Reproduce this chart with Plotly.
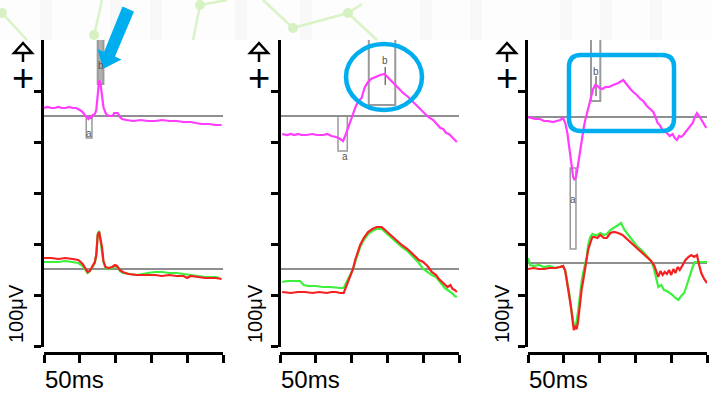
import plotly.graph_objects as go

W, H = 711, 393

# ---------------- data (time in ms, amplitude in µV-like units relative to each baseline) -------------
tick_ms = [0, 50, 100, 150, 200, 250]
amp_ticks = [0, 51, 102, 153, 204, 255]

# panel 1
p1_top_t = [0,5,10,15,20,25,30,35,40,45,50,54,57,60,62,64,66,68,71,73,75,77,79,81,83,86,88,92,96,98,100,103,106,109,115,125,135,145,155,165,175,185,195,205,212,220,230,240,248]
p1_top_v = [8,9,8,8,9,8,8,9,8,8,6,4,1,-2,-3,-1,-2,1,2,6,24,36,32,22,9,3,1,0,0,3,3,3,-1,-3,-4,-5,-4,-5,-5,-4,-5,-5,-6,-6,-7,-8,-8,-9,-9]
p1_red_t = [0,10,20,30,40,48,54,57,61,64,67,71,73,75,77,79,81,83,86,90,95,99,102,106,110,118,130,145,155,165,175,185,195,200,205,215,225,240,248]
p1_red_v = [11,11,10,11,10,9,5,1,-3,-2,2,7,14,34,37,28,22,8,2,1,2,4,3,-1,-3,-5,-6,-6,-6,-7,-6,-7,-7,-9,-7,-8,-9,-9,-10]
p1_grn_t = [0,10,20,30,40,48,54,58,61,64,67,71,73,75,77,79,81,83,86,90,95,99,102,106,110,118,130,145,155,165,175,185,195,205,215,225,240,245]
p1_grn_v = [7,7,7,8,7,6,3,-1,-4,-2,2,6,14,35,38,27,20,7,1,0,1,3,2,-2,-4,-5,-6,-4,-3,-3,-4,-4,-5,-6,-7,-8,-8,-9]

# panel 2
p2_top_t = [3,10,15,20,25,30,37,45,52,60,66,72,78,82,86,88,91,94,97,100,103,106,110,114,118,122,127,133,140,146,150,155,160,165,172,179,186,193,200,207,214,220,224,228,232,236,240,244,247]
p2_top_v = [-18,-19,-18,-19,-18,-19,-19,-18,-19,-19,-18,-20,-21,-22,-24,-25,-20,-14,-8,-4,4,10,15,18,28,33,37,39,41,42,39,35,31,28,23,19,14,8,3,-1,-4,-9,-12,-13,-17,-18,-21,-24,-26]
p2_red_t = [3,15,25,35,45,55,65,72,78,84,89,92,95,98,102,105,108,112,117,123,129,135,142,148,155,162,170,178,186,194,200,206,212,218,222,226,230,234,238,241,244,247]
p2_red_v = [-23,-24,-23,-23,-24,-23,-24,-23,-23,-24,-24,-18,-12,-8,0,9,16,24,31,37,40,42,42,38,33,29,24,20,14,9,7,3,-3,-6,-10,-13,-16,-18,-16,-20,-21,-23]
p2_grn_t = [3,10,20,28,33,40,50,60,70,78,84,89,92,95,98,102,105,108,112,117,123,129,135,142,148,155,162,170,178,186,194,200,206,212,218,224,230,236,240,244,247]
p2_grn_v = [-13,-12,-12,-12,-16,-17,-17,-18,-18,-19,-19,-19,-14,-10,-6,0,7,14,22,29,35,38,40,40,36,31,27,22,18,12,6,0,-3,-6,-8,-13,-19,-22,-24,-27,-28]

# panel 3
p3_top_t = [0,5,10,17,22,28,35,40,45,49,52,55,57,59,61,63,65,67,69,71,73,75,78,80,83,86,88,91,94,97,100,104,108,113,119,126,133,138,143,147,152,157,161,166,171,175,178,181,184,187,190,194,198,202,205,208,211,214,217,221,226,230,233,236,239,242,246,249]
p3_top_v = [0,-1,-2,-2,-4,-4,-5,-4,-3,-1,-6,-16,-28,-40,-52,-60,-63,-60,-52,-42,-30,-22,-10,-3,6,14,20,28,32,31,29,28,30,30,32,34,37,32,28,25,22,18,16,11,8,5,0,-6,-8,-12,-14,-16,-19,-17,-21,-23,-19,-20,-18,-14,-10,-6,0,4,1,-3,-8,-11]
p3_red_t = [0,8,15,22,30,38,45,49,52,55,58,60,62,64,66,68,70,72,75,77,80,82,84,87,90,93,97,101,106,110,115,120,126,132,138,145,152,160,166,172,176,179,182,185,188,191,194,197,200,203,206,209,212,216,220,224,228,232,236,239,242,246,250]
p3_red_v = [-6,-5,-6,-6,-5,-5,-4,-3,-8,-20,-34,-44,-56,-67,-64,-66,-58,-44,-26,-18,-6,2,13,20,26,26,25,28,25,25,30,31,30,28,24,20,15,10,6,2,-2,-8,-14,-8,-12,-9,-11,-7,-12,-6,-10,-4,-7,-2,3,6,8,6,8,-2,-10,-16,-20]
p3_grn_t = [0,3,8,15,22,30,38,45,49,52,55,58,60,62,64,66,68,70,72,75,77,80,82,84,87,90,93,97,101,106,110,115,120,126,130,134,138,145,152,160,166,172,176,179,182,186,190,194,198,202,206,210,214,218,221,224,227,230,233,238,245,250]
p3_grn_v = [5,-2,-3,-2,-4,-3,-5,-4,-3,-7,-18,-32,-44,-56,-62,-64,-58,-48,-34,-18,-10,-2,6,18,26,29,28,28,30,28,29,33,35,38,40,34,30,24,17,12,7,2,-6,-14,-24,-22,-27,-28,-30,-32,-35,-37,-33,-30,-24,-17,-10,-4,1,1,1,1]

# latency windows (t0, t1, v0, v1) relative to upper baseline
win_a = [(59, 67, -22, 0), (81, 94, -35, 0), (59, 67, -132, -51)]
win_b = [(75, 83, 32, 80), (124, 161, 11, 80), (88, 101, 16, 80)]
peak_b = [(79, 51, None), (147, 56, (31, 49)), (95, 46, (21, 41))]   # label t, label v, tick range
label_a = [(63, -17), (91, -40), (63, -82)]

upper_base = [230, 230, 229]
lower_base = [77, 77, 83]

panels = [
    dict(top=(p1_top_t, p1_top_v), red=(p1_red_t, p1_red_v), grn=(p1_grn_t, p1_grn_v)),
    dict(top=(p2_top_t, p2_top_v), red=(p2_red_t, p2_red_v), grn=(p2_grn_t, p2_grn_v)),
    dict(top=(p3_top_t, p3_top_v), red=(p3_red_t, p3_red_v), grn=(p3_grn_t, p3_grn_v)),
]

# ---------------- layout geometry (pixels) ----------------
x_left = [44, 280, 528]
x_right = [223, 459, 707]
y_axis_px = [42, 279, 526]
glyph_x = [23, 259, 507]
ylab_x = [16, 255, 502]

MAG = "#ff3cff"
RED = "#f52020"
GRN = "#3cf03c"
GRAY = "#8f8f8f"
BLUE = "#00aeef"
FONT = "Liberation Sans, Arial, sans-serif"


def px(x, y):
    return x / W, 1 - y / H


fig = go.Figure()
layout = dict(width=W, height=H, margin=dict(l=0, r=0, t=0, b=0),
              paper_bgcolor="white", plot_bgcolor="rgba(0,0,0,0)", showlegend=False)
shapes, annots = [], []

for i, p in enumerate(panels):
    k = "" if i == 0 else str(i + 1)
    xa, ya = "x" + k, "y" + k
    layout["xaxis" + k] = dict(domain=[x_left[i] / W, x_right[i] / W], range=[0, 250],
                               anchor="free", position=1 - 353 / H,
                               showline=True, linecolor="black", linewidth=2.5,
                               ticks="outside", ticklen=8, tickwidth=2.5, tickcolor="black",
                               tickvals=tick_ms, showticklabels=False, showgrid=False, zeroline=False)
    layout["yaxis" + k] = dict(domain=[1 - 347 / H, 1 - 40 / H], range=[-1, 306],
                               anchor="free", position=y_axis_px[i] / W,
                               showline=True, linecolor="black", linewidth=2.5,
                               ticks="outside", ticklen=7, tickwidth=2.5, tickcolor="black",
                               tickvals=amp_ticks, showticklabels=False, showgrid=False, zeroline=False)
    ub, lb = upper_base[i], lower_base[i]
    # baselines
    for b in (ub, lb):
        fig.add_trace(go.Scatter(x=[0, 250], y=[b, b], mode="lines", xaxis=xa, yaxis=ya,
                                 line=dict(color=GRAY, width=2), hoverinfo="skip"))
    # windows
    t0, t1, v0, v1 = win_a[i]
    shapes.append(dict(type="rect", xref=xa, yref=ya, x0=t0, x1=t1, y0=ub + v0, y1=ub + v1,
                       line=dict(color="#9a9a9a", width=1.5), fillcolor="rgba(255,255,255,0.6)", layer="below"))
    t0, t1, v0, v1 = win_b[i]
    fill_b = "rgba(150,150,150,0.75)" if i == 0 else "rgba(255,255,255,0)"
    shapes.append(dict(type="rect", xref=xa, yref=ya, x0=t0, x1=t1, y0=ub + v0, y1=ub + v1,
                       line=dict(color="#9a9a9a", width=2), fillcolor=fill_b, layer="below"))
    lt, lv, tk = peak_b[i]
    annots.append(dict(x=lt, y=ub + lv, xref=xa, yref=ya, text="b", showarrow=False,
                       font=dict(family=FONT, size=10, color="#555")))
    if tk:
        shapes.append(dict(type="line", xref=xa, yref=ya, x0=lt, x1=lt, y0=ub + tk[0], y1=ub + tk[1],
                           line=dict(color="#777", width=1.5), layer="below"))
    at, av = label_a[i]
    annots.append(dict(x=at, y=ub + av, xref=xa, yref=ya, text="a", showarrow=False,
                       font=dict(family=FONT, size=10, color="#555")))
    # traces
    tt, tv = p["top"]
    fig.add_trace(go.Scatter(x=tt, y=[ub + v for v in tv], mode="lines", xaxis=xa, yaxis=ya,
                             line=dict(color=MAG, width=2.2)))
    gt, gv = p["grn"]
    fig.add_trace(go.Scatter(x=gt, y=[lb + v for v in gv], mode="lines", xaxis=xa, yaxis=ya,
                             line=dict(color=GRN, width=2.2)))
    rt, rv = p["red"]
    fig.add_trace(go.Scatter(x=rt, y=[lb + v for v in rv], mode="lines", xaxis=xa, yaxis=ya,
                             line=dict(color=RED, width=2.2)))
    # texts
    x_, y_ = px(x_left[i], 379)
    annots.append(dict(x=x_, y=y_, xref="paper", yref="paper", text="50ms", showarrow=False,
                       xanchor="left", yanchor="middle", borderpad=0,
                       font=dict(family=FONT, size=24, color="black")))
    x_, y_ = px(ylab_x[i], 314)
    annots.append(dict(x=x_, y=y_, xref="paper", yref="paper", text="100μV", showarrow=False,
                       textangle=-90, xanchor="center", yanchor="middle",
                       font=dict(family=FONT, size=20, color="black")))
    gx = glyph_x[i]
    x_, y_ = px(gx, 78)
    annots.append(dict(x=x_, y=y_, xref="paper", yref="paper", text="+", showarrow=False,
                       xanchor="center", yanchor="middle", font=dict(family=FONT, size=38, color="black")))
    # polarity arrow glyph
    a = px(gx - 9, 53); b = px(gx, 43); c = px(gx + 9, 53)
    shapes.append(dict(type="path", xref="paper", yref="paper",
                       path=f"M {a[0]},{a[1]} L {b[0]},{b[1]} L {c[0]},{c[1]} Z",
                       line=dict(color="black", width=2.5), fillcolor="white", layer="above"))
    s0 = px(gx, 53); s1 = px(gx, 62)
    shapes.append(dict(type="line", xref="paper", yref="paper", x0=s0[0], y0=s0[1], x1=s1[0], y1=s1[1],
                       line=dict(color="black", width=2.5), layer="above"))

# ---------------- decorative header ----------------
hx0, hy0 = px(0, 0); hx1, hy1 = px(W, 40)
shapes.append(dict(type="rect", xref="paper", yref="paper", x0=hx0, y0=hy0, x1=hx1, y1=hy1,
                   fillcolor="#fdfdfd", line=dict(width=0), layer="above"))
for sx in [40, 110, 150, 235, 300, 420, 470, 560, 600, 650]:
    a = px(sx, 0); b = px(sx + 12, 40)
    shapes.append(dict(type="rect", xref="paper", yref="paper", x0=a[0], y0=a[1], x1=b[0], y1=b[1],
                       fillcolor="#f8f8f8", line=dict(width=0), layer="above"))
deco_lines = [((2, 13), (27, 40)), ((94, 36), (102, 0)), ((200, 5), (227, 0)), ((200, 5), (193, 40)),
              ((263, 0), (293, 28)), ((293, 28), (348, 13)), ((348, 13), (362, 4)), ((348, 13), (377, 40))]
for (x0, y0), (x1, y1) in deco_lines:
    a = px(x0, y0); b = px(x1, y1)
    shapes.append(dict(type="line", xref="paper", yref="paper", x0=a[0], y0=a[1], x1=b[0], y1=b[1],
                       line=dict(color="#d9f3c6", width=2.5), layer="above"))
for (cx, cy) in [(2, 13), (94, 35), (200, 5), (293, 28), (348, 13)]:
    a = px(cx - 5, cy - 5); b = px(cx + 5, cy + 5)
    shapes.append(dict(type="circle", xref="paper", yref="paper", x0=a[0], y0=a[1], x1=b[0], y1=b[1],
                       fillcolor="#d6f1c2", line=dict(width=0), layer="above"))

# ---------------- blue highlight marks ----------------
arrow_pts = [(122.5, 6.5), (134, 11.5), (115, 56.5), (121.5, 59.5), (103, 69), (97.5, 49), (104, 52)]
path = "M " + " L ".join(f"{px(x, y)[0]},{px(x, y)[1]}" for x, y in arrow_pts) + " Z"
shapes.append(dict(type="path", xref="paper", yref="paper", path=path, fillcolor=BLUE,
                   line=dict(width=0), layer="above"))
a = px(346, 44); b = px(422, 110)
shapes.append(dict(type="circle", xref="paper", yref="paper", x0=a[0], y0=a[1], x1=b[0], y1=b[1],
                   line=dict(color=BLUE, width=4.5), layer="above"))
x0r, y0r, x1r, y1r, r = 569, 55, 674, 131, 12
pts = [("M", x0r + r, y0r), ("L", x1r - r, y0r), ("Q", x1r, y0r, x1r, y0r + r), ("L", x1r, y1r - r),
       ("Q", x1r, y1r, x1r - r, y1r), ("L", x0r + r, y1r), ("Q", x0r, y1r, x0r, y1r - r),
       ("L", x0r, y0r + r), ("Q", x0r, y0r, x0r + r, y0r)]
segs = []
for s in pts:
    if s[0] == "Q":
        c = px(s[1], s[2]); e = px(s[3], s[4])
        segs.append(f"Q {c[0]},{c[1]} {e[0]},{e[1]}")
    else:
        e = px(s[1], s[2])
        segs.append(f"{s[0]} {e[0]},{e[1]}")
shapes.append(dict(type="path", xref="paper", yref="paper", path=" ".join(segs) + " Z",
                   line=dict(color=BLUE, width=4.5), layer="above"))

layout["shapes"] = shapes
layout["annotations"] = annots
fig.update_layout(**layout)
fig.write_html("out.html", config={"displayModeBar": False},
               post_script="document.body.style.margin='0';document.body.style.padding='0';")
